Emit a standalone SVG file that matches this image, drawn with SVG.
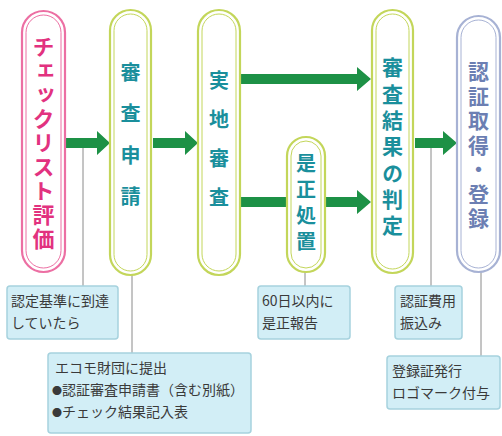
<svg xmlns="http://www.w3.org/2000/svg" width="502" height="436" viewBox="0 0 502 436">
<style>
.pill-o{fill:#ffffff;stroke-width:2.2}
.pill-i{fill:none;stroke-width:1}
.pink{stroke:#ec6fa3}
.lime{stroke:#c3d65a}
.blue{stroke:#a7b2d4}
.vt{writing-mode:vertical-rl;font-family:"Noto Sans CJK JP","Noto Sans",sans-serif;font-weight:700}
.box{fill:#d2eef6;stroke:#a6d2de;stroke-width:1.5}
.bt{font-family:"Noto Sans CJK JP","Noto Sans",sans-serif;font-size:14px;fill:#3a3a3a}
.ln{stroke:#8a8a8a;stroke-width:1;fill:none}
.arr{fill:#1d9146}
</style>
<rect width="502" height="436" fill="#ffffff"/>
<g id="connectors">
<line class="ln" x1="83" y1="148" x2="83" y2="286"/>
<line class="ln" x1="132" y1="274" x2="132" y2="353"/>
<line class="ln" x1="305" y1="272" x2="305" y2="286"/>
<line class="ln" x1="431" y1="148" x2="431" y2="286"/>
<line class="ln" x1="481" y1="271" x2="481" y2="356"/>
<path class="arr" d="M66,138 H97 V131 L110,143 L97,155 V148 H66 Z"/>
<path class="arr" d="M153,138 H185 V131 L198,143 L185,155 V148 H153 Z"/>
<path class="arr" d="M241,74 H357 V67 L371,79 L357,91 V84 H241 Z"/>
<path class="arr" d="M241,197 H288 V207 H241 Z"/>
<path class="arr" d="M325,197 H357 V190 L371,202 L357,214 V207 H325 Z"/>
<path class="arr" d="M415,138 H443 V131 L457,143 L443,155 V148 H415 Z"/>
</g>
<g id="n1">
<rect class="pill-o pink" x="22" y="11" width="43" height="261" rx="21.5"/>
<rect class="pill-i pink" x="26" y="15" width="35" height="253" rx="17.5"/>
<text class="vt" x="43.5" y="36" font-size="22" letter-spacing="2" fill="#e2327f">チェックリスト評価</text>
</g>
<g id="n2">
<rect class="pill-o lime" x="110" y="10" width="41" height="265" rx="20.5"/>
<rect class="pill-i lime" x="114" y="14" width="33" height="257" rx="16.5"/>
<text class="vt" x="130.5" y="62" font-size="20" letter-spacing="21.5" fill="#1a8f9c">審査申請</text>
</g>
<g id="n3">
<rect class="pill-o lime" x="198" y="10" width="42" height="265" rx="21"/>
<rect class="pill-i lime" x="202" y="14" width="34" height="257" rx="17"/>
<text class="vt" x="219" y="70" font-size="20" letter-spacing="19" fill="#1a8f9c">実地審査</text>
</g>
<g id="n4">
<rect class="pill-o lime" x="287" y="137" width="38" height="135" rx="19"/>
<rect class="pill-i lime" x="291" y="141" width="30" height="127" rx="15"/>
<text class="vt" x="306" y="153" font-size="20" letter-spacing="6" fill="#1a8f9c">是正処置</text>
</g>
<g id="n5">
<rect class="pill-o lime" x="372" y="10" width="41" height="263" rx="20.5"/>
<rect class="pill-i lime" x="376" y="14" width="33" height="255" rx="16.5"/>
<text class="vt" x="392.5" y="57" font-size="21" letter-spacing="5.3" fill="#1a8f9c">審査結果の判定</text>
</g>
<g id="n6">
<rect class="pill-o blue" x="457" y="16" width="43" height="256" rx="21.5"/>
<rect class="pill-i blue" x="461" y="20" width="35" height="248" rx="17.5"/>
<text class="vt" x="478.5" y="61" font-size="21" letter-spacing="3.5" fill="#6c7fb3">認証取得・登録</text>
</g>
<g id="b1">
<rect class="box" x="7" y="286" width="111" height="53" rx="3"/>
<text class="bt" x="11" y="306" font-size="15">認定基準に到達</text>
<text class="bt" x="11" y="328" font-size="15">していたら</text>
</g>
<g id="b2">
<rect class="box" x="48" y="353" width="203" height="80" rx="3"/>
<text class="bt" x="55" y="373">エコモ財団に提出</text>
<text class="bt" x="52" y="395"><tspan font-size="10">●</tspan>認証審査申請書（含む別紙）</text>
<text class="bt" x="52" y="417"><tspan font-size="10">●</tspan>チェック結果記入表</text>
</g>
<g id="b3">
<rect class="box" x="258" y="286" width="92" height="53" rx="3"/>
<text class="bt" x="262" y="306" font-size="15">60日以内に</text>
<text class="bt" x="262" y="328" font-size="15">是正報告</text>
</g>
<g id="b4">
<rect class="box" x="395" y="286" width="67" height="53" rx="3"/>
<text class="bt" x="400" y="306" font-size="15">認証費用</text>
<text class="bt" x="400" y="328" font-size="15">振込み</text>
</g>
<g id="b5">
<rect class="box" x="387" y="356" width="113" height="53" rx="3"/>
<text class="bt" x="392" y="376" font-size="15">登録証発行</text>
<text class="bt" x="392" y="398" font-size="15">ロゴマーク付与</text>
</g>
</svg>
